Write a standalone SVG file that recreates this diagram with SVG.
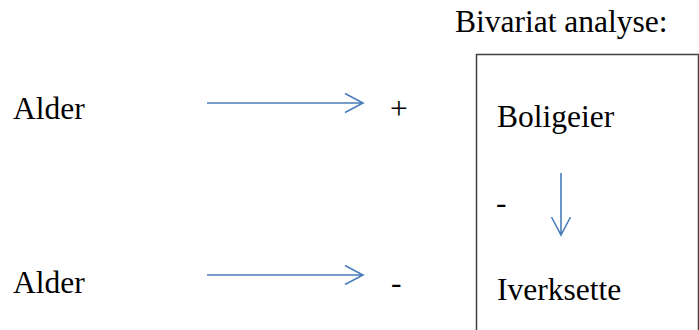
<svg xmlns="http://www.w3.org/2000/svg" width="699" height="330" viewBox="0 0 699 330">
  <style>
    .t { font-family: "Liberation Serif", "Times New Roman", serif; font-size: 31.5px; fill: #000; }
    .arrow { stroke: #4a7ebb; stroke-width: 1.6; fill: none; }
    .box { stroke: #404040; stroke-width: 1.5; fill: #fff; }
  </style>
  <rect width="699" height="330" fill="#fff"/>

  <g id="title">
    <text class="t" x="455" y="32">Bivariat analyse:</text>
  </g>

  <g id="frame">
    <path class="box" d="M476.5,340 V54.5 H698.5 V340"/>
  </g>

  <g id="alder-top">
    <text class="t" x="13" y="119">Alder</text>
  </g>
  <g id="sign-plus">
    <text class="t" x="390" y="119">+</text>
  </g>

  <g id="alder-bottom">
    <text class="t" x="13" y="293">Alder</text>
  </g>
  <g id="sign-minus">
    <text class="t" x="391" y="293">-</text>
  </g>

  <g id="boligeier">
    <text class="t" x="497" y="127">Boligeier</text>
  </g>
  <g id="sign-minus-inner">
    <text class="t" x="496" y="213">-</text>
  </g>
  <g id="iverksette">
    <text class="t" x="497" y="300">Iverksette</text>
  </g>

  <g id="connectors">
    <path class="arrow" d="M207,103 H363 M345,93.5 L363,103 L345,112.5"/>
    <path class="arrow" d="M207,275 H363 M345,265.5 L363,275 L345,284.5"/>
    <path class="arrow" d="M561,173 V235 M551.5,217 L561,235 L570.5,217"/>
  </g>
</svg>
